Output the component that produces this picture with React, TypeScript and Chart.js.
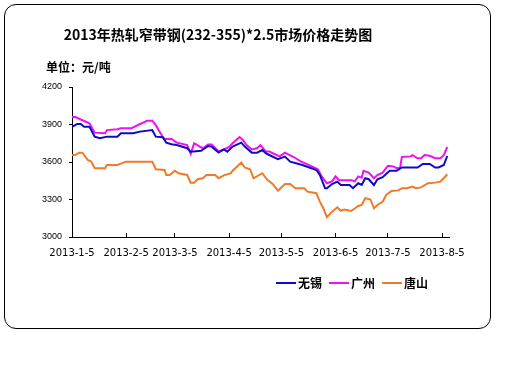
import { useEffect, useRef } from "react";
import { Chart, registerables } from "chart.js";

Chart.register(...registerables);

const TITLE = "2013年热轧窄带钢(232-355)*2.5市场价格走势图";
const UNIT = "单位：元/吨";
const SERIES_NAMES = ["无锡", "广州", "唐山"];
const SERIES_COLORS = ["#0C0CC4", "#F010F0", "#F07A28"];

// x axis: days counted from 2013-1-5
const MONTH_TICK_DAYS = [0, 31, 59, 90, 120, 151, 181, 212];
const MONTH_TICK_LABELS = [
  "2013-1-5",
  "2013-2-5",
  "2013-3-5",
  "2013-4-5",
  "2013-5-5",
  "2013-6-5",
  "2013-7-5",
  "2013-8-5",
];
const Y_TICKS = [3000, 3300, 3600, 3900, 4200];

// 无锡
const wxDays = [0, 3, 5, 7, 10, 13, 16, 20, 26, 28, 35, 39, 46, 48, 52, 54, 57, 60, 66, 68, 74, 78, 80, 84, 87, 89, 92, 97, 99, 103, 106, 109, 111, 113, 118, 122, 125, 132, 136, 140, 142, 145, 146, 149, 152, 154, 159, 161, 164, 166, 168, 170, 173, 175, 178, 182, 186, 189, 198, 201, 205, 208, 210, 213, 215];
const wxVals = [3880, 3905, 3905, 3882, 3882, 3803, 3790, 3803, 3803, 3830, 3830, 3843, 3856, 3803, 3798, 3755, 3742, 3736, 3710, 3683, 3690, 3728, 3723, 3675, 3700, 3683, 3723, 3755, 3723, 3675, 3675, 3696, 3670, 3656, 3622, 3643, 3603, 3576, 3556, 3536, 3496, 3390, 3390, 3424, 3443, 3416, 3416, 3390, 3430, 3416, 3470, 3462, 3416, 3462, 3478, 3530, 3530, 3556, 3556, 3584, 3584, 3556, 3556, 3576, 3648];

// 广州
const gzDays = [0, 2, 5, 10, 13, 19, 20, 26, 28, 34, 43, 46, 48, 52, 53, 57, 60, 66, 68, 70, 73, 75, 78, 80, 84, 87, 90, 92, 96, 98, 100, 103, 106, 108, 111, 113, 115, 119, 122, 127, 131, 136, 141, 143, 146, 149, 151, 153, 160, 162, 164, 166, 167, 170, 173, 175, 178, 181, 184, 186, 188, 189, 194, 195, 198, 200, 202, 205, 208, 211, 213, 215];
const gzVals = [3960, 3960, 3940, 3910, 3835, 3830, 3855, 3862, 3870, 3870, 3930, 3930, 3895, 3800, 3785, 3785, 3755, 3735, 3665, 3750, 3725, 3710, 3740, 3740, 3685, 3700, 3720, 3750, 3800, 3775, 3735, 3700, 3710, 3735, 3685, 3685, 3670, 3645, 3675, 3640, 3605, 3575, 3540, 3485, 3430, 3445, 3485, 3455, 3455, 3445, 3485, 3475, 3530, 3515, 3470, 3495, 3515, 3570, 3565, 3550, 3555, 3640, 3645, 3655, 3630, 3630, 3655, 3650, 3630, 3630, 3655, 3720];

// 唐山
const tsDays = [0, 2, 4, 6, 9, 11, 13, 19, 20, 26, 31, 46, 48, 53, 54, 56, 59, 61, 66, 68, 70, 72, 75, 77, 82, 84, 87, 91, 92, 94, 97, 99, 102, 104, 109, 112, 115, 118, 122, 125, 128, 133, 135, 140, 142, 144, 146, 149, 152, 154, 156, 160, 164, 166, 168, 171, 173, 175, 178, 180, 183, 187, 189, 192, 195, 197, 200, 204, 208, 211, 213, 215];
const tsVals = [3656, 3656, 3675, 3675, 3616, 3603, 3550, 3550, 3576, 3576, 3603, 3603, 3542, 3536, 3496, 3496, 3530, 3510, 3496, 3435, 3435, 3462, 3470, 3496, 3496, 3470, 3493, 3510, 3530, 3556, 3595, 3556, 3542, 3470, 3510, 3456, 3424, 3370, 3424, 3424, 3390, 3390, 3363, 3350, 3283, 3230, 3158, 3203, 3238, 3210, 3220, 3208, 3248, 3256, 3310, 3300, 3230, 3256, 3283, 3336, 3368, 3373, 3390, 3390, 3403, 3390, 3397, 3430, 3435, 3443, 3470, 3502];

const SERIES_DAYS = [wxDays, gzDays, tsDays];
const SERIES_VALS = [wxVals, gzVals, tsVals];

export default function App() {
  const ref = useRef<HTMLCanvasElement>(null);

  useEffect(() => {
    if (!ref.current) return;

    const decor = {
      id: "decor",
      afterDraw(chart: any) {
        const ctx = chart.ctx as CanvasRenderingContext2D;
        ctx.save();
        ctx.fillStyle = "#000";
        ctx.textBaseline = "middle";
        // title
        ctx.font = 'bold 14px "Noto Sans CJK SC", sans-serif';
        ctx.textAlign = "center";
        ctx.fillText(TITLE, 218, 35);
        // unit
        ctx.font = 'bold 12px "Noto Sans CJK SC", sans-serif';
        ctx.textAlign = "left";
        ctx.fillText(UNIT, 46, 67);
        // legend
        let x = 276;
        const y = 283;
        ctx.font = 'bold 12px "Noto Sans CJK SC", sans-serif';
        chart.data.datasets.forEach((ds: any) => {
          ctx.strokeStyle = ds.borderColor;
          ctx.lineWidth = 2;
          ctx.beginPath();
          ctx.moveTo(x, y);
          ctx.lineTo(x + 20, y);
          ctx.stroke();
          x += 22;
          ctx.fillStyle = "#000";
          ctx.fillText(ds.label, x, y);
          x += ctx.measureText(ds.label).width + 7;
        });
        ctx.restore();
      },
    };

    const chart = new Chart(ref.current, {
      type: "line",
      data: {
        datasets: SERIES_NAMES.map((name, i) => ({
          label: name,
          data: SERIES_DAYS[i].map((d, j) => ({ x: d, y: SERIES_VALS[i][j] })),
          borderColor: SERIES_COLORS[i],
          backgroundColor: SERIES_COLORS[i],
          borderWidth: 2,
          pointRadius: 0,
          tension: 0,
          fill: false,
        })),
      },
      options: {
        responsive: false,
        animation: false,
        devicePixelRatio: 1,
        layout: { padding: { left: 0, top: 87, right: 63, bottom: 117 } },
        plugins: {
          legend: { display: false },
          title: { display: false },
          tooltip: { enabled: false },
        },
        scales: {
          x: {
            type: "linear",
            min: 0,
            max: 216,
            afterBuildTicks: (s: any) => {
              s.ticks = MONTH_TICK_DAYS.map((v) => ({ value: v }));
            },
            afterFit: (s: any) => {
              s.height = 30;
              s.paddingLeft = 0;
              s.paddingRight = 0;
            },
            grid: {
              display: true,
              drawOnChartArea: false,
              drawTicks: true,
              tickLength: -4,
              color: "#000",
            },
            border: { display: true, color: "#000", width: 1 },
            ticks: {
              autoSkip: false,
              maxRotation: 0,
              padding: 14,
              color: "#000",
              font: { family: "DejaVu Sans", size: 10 },
              callback: (v: any) => MONTH_TICK_LABELS[MONTH_TICK_DAYS.indexOf(Number(v))] ?? "",
            },
          },
          y: {
            min: 3000,
            max: 4200,
            afterBuildTicks: (s: any) => {
              s.ticks = Y_TICKS.map((v) => ({ value: v }));
            },
            afterFit: (s: any) => {
              s.width = 72;
              s.paddingTop = 0;
              s.paddingBottom = 0;
            },
            grid: {
              display: true,
              drawOnChartArea: false,
              drawTicks: true,
              tickLength: 3,
              color: "#000",
            },
            border: { display: true, color: "#000", width: 1 },
            ticks: {
              padding: 7,
              color: "#000",
              font: { family: "Liberation Sans", size: 9 },
              callback: (v: any) => String(v),
            },
          },
        },
      },
      plugins: [decor],
    } as any);

    return () => chart.destroy();
  }, []);

  return (
    <div style={{ position: "absolute", left: 0, top: 0, width: 512, height: 384, background: "#fff" }}>
      <div
        style={{
          position: "absolute",
          left: 4,
          top: 4,
          width: 485,
          height: 323,
          border: "1px solid #000",
          borderRadius: 12,
        }}
      />
      <canvas ref={ref} width={512} height={384} style={{ position: "absolute", left: 0, top: 0 }} />
    </div>
  );
}
